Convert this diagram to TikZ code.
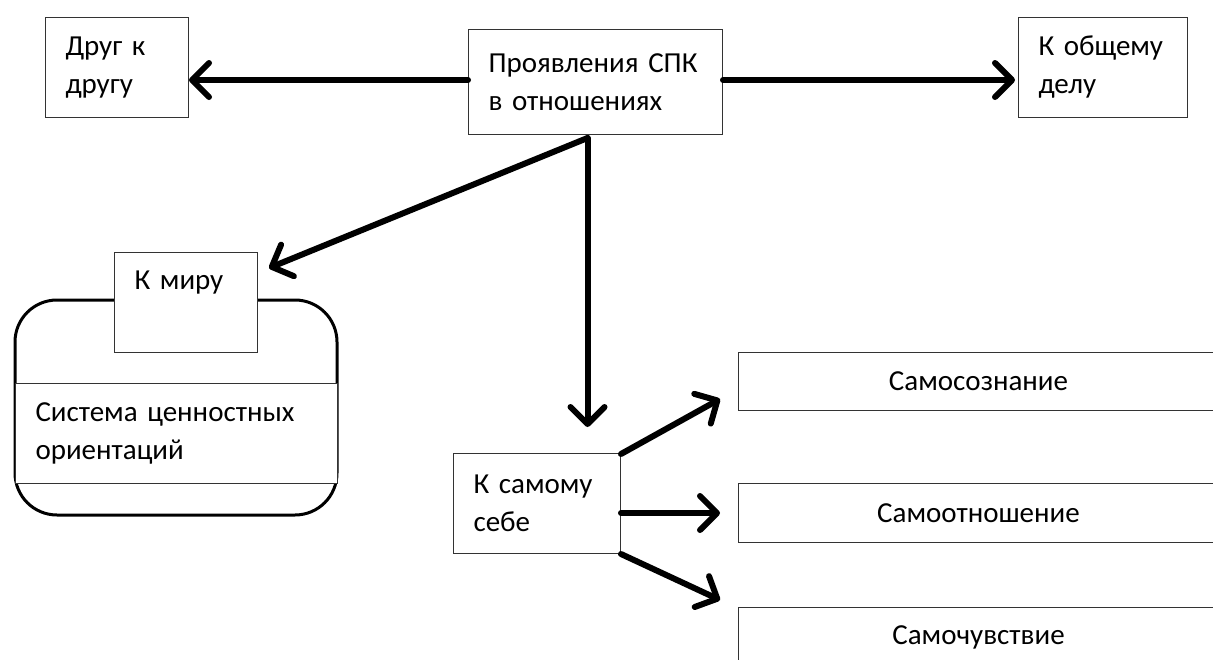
\documentclass[tikz,border=0pt]{standalone}
\usepackage{fontspec}
\setmainfont{Carlito}
\usetikzlibrary{arrows.meta,calc}
\begin{document}
\begin{tikzpicture}[x=1pt,y=-1pt,
  box/.style={draw=black!80,line width=1pt,fill=white,rectangle,inner xsep=20pt,inner ysep=0pt,align=left,anchor=north west},
  arr/.style={line width=6pt,line cap=round,-{Straight Barb[length=17pt,width=34pt,round]}},
  font=\fontsize{29}{38}\selectfont]
\useasboundingbox (0,0) rectangle (1213,659);
\clip (0,0) rectangle (1213,659);
% nodes
\node[box,minimum width=143pt,minimum height=100pt,text width=103pt] (drug) at (45,17) {Друг к\\другу};
\node[box,minimum width=254pt,minimum height=105pt,text width=214pt] (main) at (468,29) {Проявления СПК\\в отношениях};
\node[box,minimum width=169pt,minimum height=100pt,text width=129pt] (obsh) at (1018,17) {К общему\\делу};
% rounded container
\draw[line width=3pt,rounded corners=42pt] (15,300) rectangle (337,515);
\node[box,minimum width=322pt,minimum height=100pt,text width=282pt] (sys) at (15,383) {Система ценностных\\ориентаций};
\node[box,minimum width=143pt,minimum height=100pt,text width=103pt,anchor=north west] (mir) at (114,252) {К миру\\[6pt]\mbox{}};
\node[box,minimum width=167pt,minimum height=100pt,text width=127pt] (sebe) at (453,453) {К самому\\себе};
\node[box,minimum width=480pt,minimum height=58pt,text width=440pt,align=center] (soz) at (738,352) {Самосознание};
\node[box,minimum width=480pt,minimum height=59pt,text width=440pt,align=center] (otn) at (738,483) {Самоотношение};
\node[box,minimum width=480pt,minimum height=60pt,text width=440pt,align=center] (chuv) at (738,607) {Самочувствие};
% connectors
\draw[arr] (main.west |- 0,80) -- (drug.east |- 0,80);
\draw[arr] (main.east |- 0,80) -- ($(obsh.west |- 0,80)+(-3,0)$);
\coordinate (src) at ($(main.south)+(-8,3)$);
\coordinate (mirtip) at ($(mir.north east)+(11,16)$);
\draw[arr] (src) -- (mirtip);
\coordinate (sebetop) at ($(sebe.north -| src)+(0,-26)$);
\draw[arr] (src) -- (sebetop);
\draw[arr] ($(sebe.north east)+(0,1)$) -- ($(soz.south west)+(-18,-12)$);
\draw[arr] (sebe.east |- otn.west) -- ($(otn.west)+(-18,0)$);
\draw[arr] (sebe.south east) -- ($(chuv.north west)+(-18,-7)$);
\end{tikzpicture}
\end{document}
